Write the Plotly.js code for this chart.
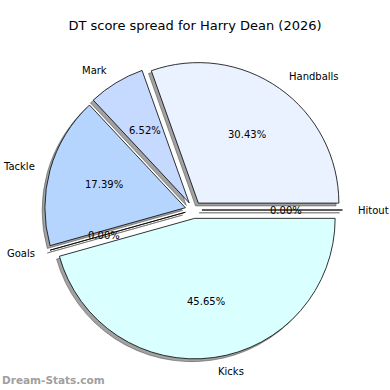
<!DOCTYPE html>
<html><head><meta charset="utf-8">
<script src="https://cdn.plot.ly/plotly-3.0.1.min.js"></script>
<style>html,body{margin:0;padding:0;background:#fff}#chart{width:390px;height:390px}</style>
</head><body><div id="chart"></div>
<script>
const categories = ["Handballs", "Mark", "Tackle", "Goals", "Kicks", "Hitout"];
const values = [14, 3, 8, 0, 21, 0];
const colors = ["#eaf1ff", "#c6daff", "#b5d5ff", "#c8e0ff", "#d9ffff", "#e0e8ff"];
const explode = 0.06;

const W = 390, H = 390;
const cx = 193.5, cy = 210, r = 140.5;  // pixel centre / radius of the pie
const half = r * (1 + explode);
const dom = {x: [(cx - half) / W, (cx + half) / W], y: [(H - cy - half) / H, (H - cy + half) / H]};
const sh = 2.8;                          // shadow offset in px
const shDom = {x: [dom.x[0] - sh / W, dom.x[1] - sh / W], y: [dom.y[0] - sh / H, dom.y[1] - sh / H]};

const total = values.reduce((a, b) => a + b, 0);
// Plotly's counterclockwise pies end the first slice at `rotation`; start it at 3 o'clock instead
const rot = 90 - 360 * values[0] / total;

const common = {
  type: 'pie', labels: categories, values: values, sort: false,
  direction: 'counterclockwise', rotation: rot,
  pull: values.map(() => explode), textinfo: 'none', hoverinfo: 'label+percent',
  showlegend: false
};

const shadow = Object.assign({}, common, {
  domain: shDom,
  marker: {colors: values.map(() => 'rgba(70,70,70,0.5)'), line: {color: 'rgba(70,70,70,0.5)', width: 1}},
  hoverinfo: 'skip'
});
const main = Object.assign({}, common, {
  domain: dom,
  marker: {colors: colors, line: {color: '#000', width: 0.8}}
});

// label / percentage annotations placed like matplotlib (labeldistance 1.1, pctdistance 0.6)
const ann = [];
let cum = 0;
values.forEach((v, i) => {
  const frac = v / total;
  const mid = 2 * Math.PI * (cum + frac / 2);
  cum += frac;
  const c = Math.cos(mid), s = Math.sin(mid);
  const ox = cx + explode * r * c, oy = cy - explode * r * s;
  const lx = ox + 1.1 * r * c, ly = oy - 1.1 * r * s;
  ann.push({x: lx / W, y: 1 - ly / H, xref: 'paper', yref: 'paper', showarrow: false,
    text: categories[i], xanchor: c > 0 ? 'left' : 'right', yanchor: 'middle',
    font: {family: 'DejaVu Sans', size: 10, color: '#000'}});
  const px = ox + 0.6 * r * c, py = oy - 0.6 * r * s;
  ann.push({x: px / W, y: 1 - py / H, xref: 'paper', yref: 'paper', showarrow: false,
    text: (frac * 100).toFixed(2) + '%', xanchor: 'center', yanchor: 'middle',
    font: {family: 'DejaVu Sans', size: 10, color: '#000'}});
});
ann.push({x: 0, y: 1 - 380 / H, xref: 'paper', yref: 'paper', showarrow: false,
  text: '<b>Dream-Stats.com</b>', xanchor: 'left', yanchor: 'middle',
  font: {family: 'DejaVu Sans', size: 10.5, color: '#a0a0a0'}});

const layout = {
  width: W, height: H, margin: {l: 0, r: 0, t: 0, b: 0},
  paper_bgcolor: '#fff', plot_bgcolor: '#fff',
  title: {text: 'DT score spread for Harry Dean (2026)', x: 0.5, xanchor: 'center', y: 1 - 25 / H, yanchor: 'middle',
    font: {family: 'DejaVu Sans', size: 13, color: '#000'}},
  annotations: ann
};
Plotly.newPlot('chart', [shadow, main], layout, {displayModeBar: false, staticPlot: true});
</script></body></html>
